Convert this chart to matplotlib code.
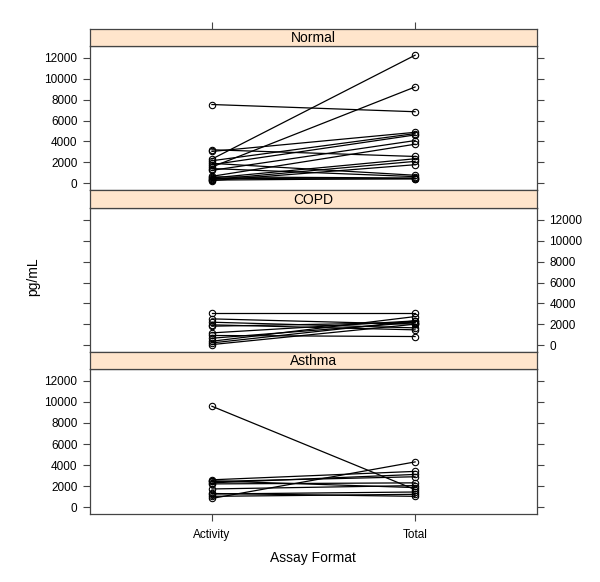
import matplotlib
matplotlib.use("Agg")
import matplotlib.pyplot as plt

plt.rcParams['font.family'] = ['Liberation Sans', 'DejaVu Sans']

formats = ["Activity", "Total"]
groups = ["Normal", "COPD", "Asthma"]

normal_activity = [7530, 3200, 3040, 2310, 2150, 1770, 1550, 1230, 660, 500, 350, 250, 1900, 1400, 600, 450, 300]
normal_total = [6840, 2560, 4870, 12250, 4750, 4620, 9210, 4080, 3730, 2340, 2090, 1770, 760, 630, 500, 410, 450]

copd_activity = [3060, 2520, 2200, 1950, 1820, 1180, 930, 670, 380, 220, 60]
copd_total = [3060, 2010, 1660, 1470, 2170, 2330, 830, 2170, 2740, 2330, 2010]

asthma_activity = [9590, 830, 2600, 2440, 2310, 2210, 1730, 1250, 1030, 2500, 1300]
asthma_total = [1670, 4300, 3400, 2890, 3110, 2310, 2050, 1440, 1220, 1860, 1030]

data = {
    "Normal": (normal_activity, normal_total),
    "COPD": (copd_activity, copd_total),
    "Asthma": (asthma_activity, asthma_total),
}

yticks = [0, 2000, 4000, 6000, 8000, 10000, 12000]

W, H = 600, 582
fig = plt.figure(figsize=(W / 100, H / 100), dpi=100)

def rect(x0, y0, x1, y1):
    return [x0 / W, 1 - y1 / H, (x1 - x0) / W, (y1 - y0) / H]

border = '#444444'
strip_col = '#ffe5cc'
panels = {
    "Normal": (29, 46, 190),
    "COPD": (190, 208, 352),
    "Asthma": (352, 369, 514),
}
x0, x1 = 90, 537

for i, g in enumerate(groups):
    st, pt, pb = panels[g]
    ax = fig.add_axes(rect(x0, pt, x1, pb))
    act, tot = data[g]
    xpos = [1, 2]
    for a, t in zip(act, tot):
        ax.plot(xpos, [a, t], color='black', lw=0.9, marker='o', ms=4.6,
                mfc='none', mec='black', mew=0.8)
    ax.set_xlim(0.4, 2.6)
    ax.set_ylim(-650, 13130)
    ax.set_yticks(yticks)
    ax.set_yticklabels([str(v) for v in yticks])
    ax.tick_params(axis='y', direction='out', length=5, width=0.8, color=border,
                   labelsize=8.5, pad=4, left=True, right=True,
                   labelleft=(g != "COPD"), labelright=(g == "COPD"))
    ax.set_xticks(xpos)
    if g == "Asthma":
        ax.set_xticklabels(formats)
        ax.tick_params(axis='x', direction='out', length=5, width=0.8, color=border,
                       labelsize=8.5, pad=6, top=False, bottom=True)
    else:
        ax.tick_params(axis='x', bottom=False, top=False, labelbottom=False)
    for sp in ax.spines.values():
        sp.set_color(border)
        sp.set_linewidth(0.9)

    sax = fig.add_axes(rect(x0, st, x1, pt))
    sax.set_facecolor(strip_col)
    sax.set_xlim(0.4, 2.6)
    sax.set_ylim(0, 1)
    sax.set_yticks([])
    if g == "Normal":
        sax.set_xticks([1, 2])
        sax.tick_params(axis='x', direction='out', length=5, width=0.8, color=border,
                        top=True, bottom=False, labeltop=False, labelbottom=False)
    else:
        sax.set_xticks([])
    sax.text(1.5, 0.45, g, ha='center', va='center', fontsize=10)
    for sp in sax.spines.values():
        sp.set_color(border)
        sp.set_linewidth(0.9)

fig.text(33 / W, 1 - 277 / H, "pg/mL", rotation=90, ha='center', va='center', fontsize=10)
fig.text(313 / W, 1 - 558 / H, "Assay Format", ha='center', va='center', fontsize=10)

fig.savefig("out.png", dpi=100)
